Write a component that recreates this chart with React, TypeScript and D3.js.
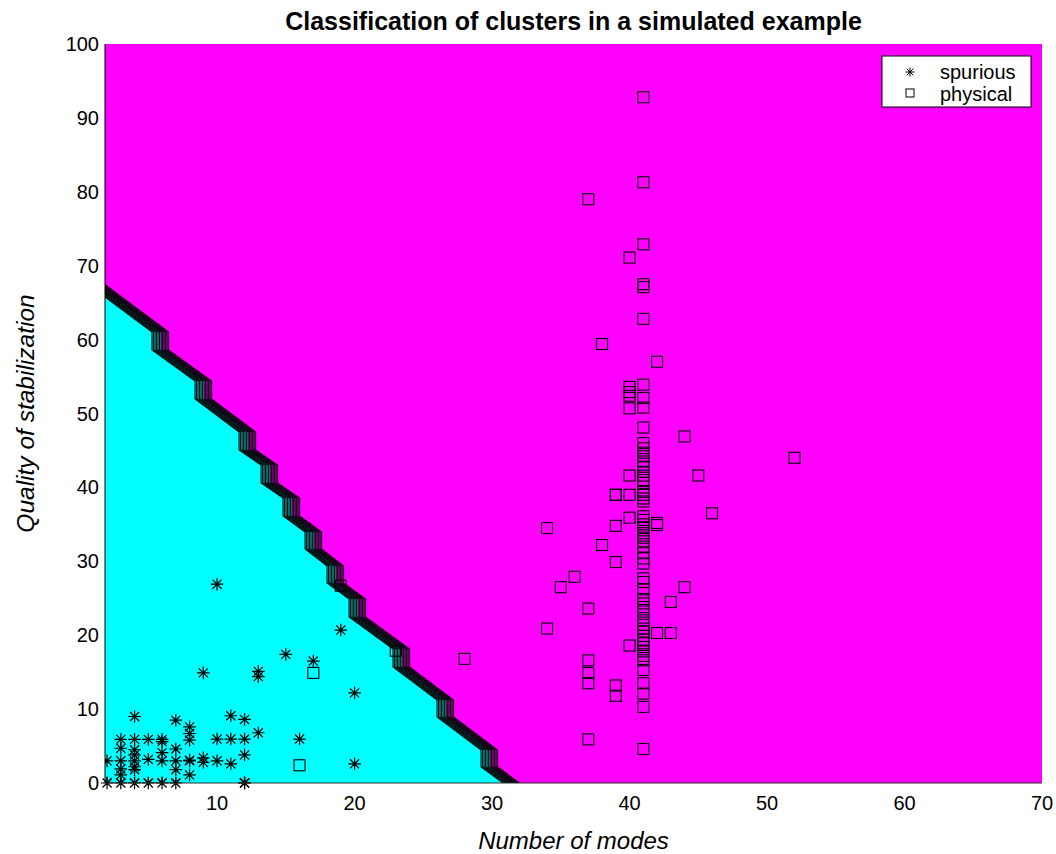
import React, { useEffect } from "react";
import * as d3 from "d3";

// ---------- data ----------
const titleText = "Classification of clusters in a simulated example";
const xLabelText = "Number of modes";
const yLabelText = "Quality of stabilization";
const xTicks = [10, 20, 30, 40, 50, 60, 70];
const yTicks = [0, 10, 20, 30, 40, 50, 60, 70, 80, 90, 100];
const legendLabels = ["spurious", "physical"];

// decision boundary (staircase edge of the cyan "spurious" region)
const boundaryX = [0.25, 1.85, 5.27, 5.27, 8.4, 8.4, 11.6, 11.6, 13.2, 13.2, 14.8, 14.8, 16.4, 16.4, 18.0, 18.0, 19.6, 19.6, 22.8, 22.8, 26.0, 26.0, 29.2, 29.2, 30.8, 32.4];
const boundaryY = [68.0, 65.77, 61.03, 58.59, 54.4, 51.96, 47.5, 45.06, 43.03, 40.6, 38.57, 36.13, 33.96, 31.66, 29.36, 27.06, 24.9, 22.46, 18.13, 15.7, 11.23, 8.93, 4.47, 2.17, 0, -2.2];

// spurious clusters (stars)
const spuriousX = [2, 3, 4, 5, 6, 7, 12, 2, 3, 3, 3, 3, 3, 4, 4, 4, 4, 4, 4, 4, 5, 5, 6, 6, 6, 6, 7, 7, 7, 7, 8, 8, 8, 8, 8, 8, 9, 9, 9, 10, 10, 10, 11, 11, 11, 12, 12, 12, 12, 13, 13, 13, 15, 16, 17, 19, 20, 20];
const spuriousY = [0, 0, 0, 0, 0, 0, 0, 3.0, 1.1, 1.9, 3.0, 4.7, 5.9, 1.8, 2.2, 3.0, 3.8, 4.5, 5.9, 9.0, 3.2, 5.9, 3.0, 4.1, 5.6, 5.9, 1.8, 3.0, 4.6, 8.5, 1.1, 3.0, 3.1, 5.8, 6.7, 7.6, 2.8, 3.4, 14.9, 3.0, 5.95, 26.9, 2.6, 5.95, 9.1, 3.8, 5.95, 8.6, 0, 6.8, 14.4, 15.1, 17.4, 5.95, 16.5, 20.7, 2.6, 12.2];

// physical clusters (squares)
const physicalX = [16, 17, 19, 23, 28, 34, 34, 35, 36, 37, 37, 37, 37, 37, 37, 38, 38, 39, 39, 39, 39, 39, 39, 40, 40, 40, 40, 40, 40, 40, 40, 40, 42, 42, 42, 42, 43, 43, 44, 44, 45, 46, 52,
  41, 41, 41, 41, 41, 41, 41, 41, 41, 41, 41, 41, 41, 41, 41, 41, 41, 41, 41, 41, 41, 41, 41, 41, 41, 41, 41, 41, 41, 41, 41, 41, 41, 41, 41, 41, 41, 41, 41, 41, 41, 41, 41, 41, 41, 41, 41, 41, 41, 41, 41, 41, 41, 41, 41, 41, 41, 41, 41];
const physicalY = [2.4, 14.9, 26.7, 17.9, 16.8, 20.9, 34.5, 26.5, 27.9, 5.9, 13.5, 14.9, 16.6, 23.6, 79.0, 32.2, 59.4, 11.8, 13.2, 29.9, 34.8, 39.0, 39.0, 18.6, 35.9, 39.0, 41.6, 50.7, 52.4, 52.9, 53.6, 71.1, 20.3, 34.9, 35.2, 57.0, 20.3, 24.5, 26.5, 46.9, 41.6, 36.5, 44.0,
  4.6, 10.3, 12.1, 13.5, 15.3, 16.6, 17.2, 17.8, 18.4, 18.9, 19.4, 19.9, 20.5, 20.9, 21.4, 22.0, 23.2, 23.8, 24.3, 24.9, 26.2, 27.2, 27.7, 29.7, 30.4, 31.1, 32.0, 32.7, 33.2, 33.8, 34.5, 35.0, 35.6, 36.1, 38.1, 38.5, 39.0, 39.4, 40.6, 41.0, 41.6, 42.1, 42.8, 43.5, 44.2, 44.7, 45.3, 46.0, 48.1, 50.8, 52.1, 53.9, 62.8, 67.1, 67.5, 72.9, 81.3, 92.8];

// ---------- layout ----------
const W = 1056, H = 854;
const M = { left: 105, right: 1042, top: 44, bottom: 783 };
const CYAN = "#00ffff", MAGENTA = "#ff00ff";
const FONT = "'Liberation Sans', Arial, Helvetica, sans-serif";

const xScale = d3.scaleLinear().domain([1.85, 70]).range([M.left, M.right]);
const yScale = d3.scaleLinear().domain([0, 100]).range([M.bottom, M.top]);

function starPath(cx: number, cy: number, r: number) {
  const d = r * 0.72;
  return `M${cx - r},${cy}H${cx + r}M${cx},${cy - r}V${cy + r}M${cx - d},${cy - d}L${cx + d},${cy + d}M${cx - d},${cy + d}L${cx + d},${cy - d}`;
}

export default function App() {
  useEffect(() => {
    document.body.style.margin = "0";
  }, []);

  const pts: [number, number][] = boundaryX.map((x, i) => [xScale(x), yScale(boundaryY[i])]);
  const shifted = (dx: number) => d3.line()(pts.map(([x, y]) => [x + dx, y] as [number, number])) as string;

  // cyan polygon: area left/below the boundary (split in middle of band)
  const mid = pts.map(([x, y]) => [x + 9, y] as [number, number]);
  const cyanPoly = [
    [xScale(0.25) - 40, yScale(-5)] as [number, number],
    [xScale(0.25) - 40, mid[0][1]] as [number, number],
    ...mid,
    [mid[mid.length - 1][0], yScale(-5)] as [number, number],
  ];
  const cyanPath = d3.line()(cyanPoly) + "Z";

  const bandShifts = d3.range(0, 17.2, 1.5);

  const xMid = (M.left + M.right) / 2;
  const yMid = (M.top + M.bottom) / 2;
  const sq = 11;

  return (
    <svg width={W} height={H} style={{ display: "block", background: "#fff" }} fontFamily={FONT}>
      <defs>
        <clipPath id="plotClip">
          <rect x={M.left} y={M.top} width={M.right - M.left} height={M.bottom - M.top} />
        </clipPath>
      </defs>
      <rect x={0} y={0} width={W} height={H} fill="#fff" />
      <g clipPath="url(#plotClip)">
        <rect x={M.left} y={M.top} width={M.right - M.left} height={M.bottom - M.top} fill={MAGENTA} />
        <path d={cyanPath} fill={CYAN} />
        {bandShifts.map((s, i) => (
          <path key={i} d={shifted(s)} fill="none" stroke="#000" strokeWidth={1.15} strokeOpacity={0.95} />
        ))}
        {spuriousX.map((x, i) => (
          <path key={"s" + i} d={starPath(xScale(x), yScale(spuriousY[i]), 6.3)} stroke="#000" strokeWidth={1.2} fill="none" />
        ))}
        {physicalX.map((x, i) => (
          <rect key={"p" + i} x={xScale(x) - sq / 2} y={yScale(physicalY[i]) - sq / 2} width={sq} height={sq} stroke="#000" strokeWidth={1.1} fill="none" />
        ))}
      </g>
      {/* markers at the bottom edge overflowing */}
      <g>
        {spuriousX.map((x, i) =>
          spuriousY[i] < 1 ? (
            <path key={"sb" + i} d={starPath(xScale(x), yScale(spuriousY[i]), 6.3)} stroke="#000" strokeWidth={1.2} fill="none" />
          ) : null
        )}
      </g>
      {/* axes lines */}
      <line x1={M.left} x2={M.left} y1={M.top} y2={M.bottom} stroke="#000" strokeWidth={1} />
      <line x1={M.left} x2={M.right} y1={M.bottom} y2={M.bottom} stroke="#333" strokeWidth={1.2} />
      {/* tick labels */}
      {xTicks.map((t) => (
        <text key={"xt" + t} x={xScale(t)} y={803} textAnchor="middle" dominantBaseline="central" fontSize={20} fill="#000">
          {t}
        </text>
      ))}
      {yTicks.map((t) => (
        <text key={"yt" + t} x={99} y={yScale(t)} textAnchor="end" dominantBaseline="central" fontSize={20} fill="#000">
          {t}
        </text>
      ))}
      {/* title and labels */}
      <text x={xMid} y={21} textAnchor="middle" dominantBaseline="central" fontSize={25} fontWeight="bold">
        {titleText}
      </text>
      <text x={xMid} y={840} textAnchor="middle" dominantBaseline="central" fontSize={24}fontStyle="italic">
        {xLabelText}
      </text>
      <text transform={`translate(25,${yMid}) rotate(-90)`} textAnchor="middle" dominantBaseline="central" fontSize={24.5} fontStyle="italic">
        {yLabelText}
      </text>
      {/* legend */}
      <g>
        <rect x={882} y={56} width={149} height={51} fill="#fff" stroke="#000" strokeWidth={1} />
        <path d={starPath(910, 72, 4.5)} stroke="#000" strokeWidth={1} fill="none" />
        <rect x={906} y={89} width={8} height={8} stroke="#000" strokeWidth={1} fill="none" />
        <text x={940} y={72} dominantBaseline="central" fontSize={20}>{legendLabels[0]}</text>
        <text x={940} y={94} dominantBaseline="central" fontSize={20}>{legendLabels[1]}</text>
      </g>
    </svg>
  );
}
